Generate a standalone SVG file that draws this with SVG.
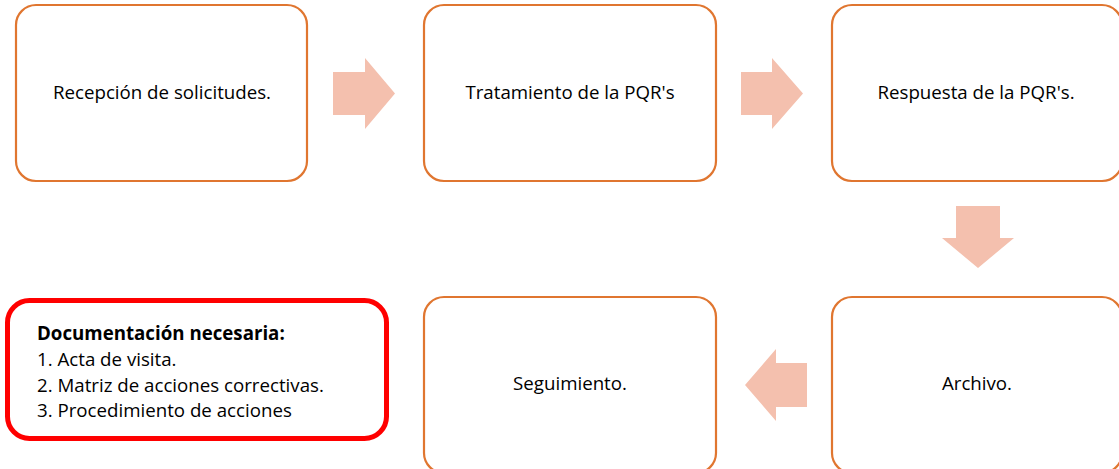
<svg xmlns="http://www.w3.org/2000/svg" width="1119" height="469" viewBox="0 0 1119 469">
<style>
.box{fill:#fff;stroke:#E07630;stroke-width:2.2}
.arr{fill:#F4C0AE;stroke:none}
.lbl{font-family:"Open Sans","Liberation Sans",Arial,sans-serif;font-size:18.7px;fill:#000;text-anchor:middle}
.doc{font-family:"Open Sans","Liberation Sans",Arial,sans-serif;font-size:18.7px;fill:#000}
</style>
<rect width="1119" height="469" fill="#fff"/>
<g id="n1"><rect class="box" x="16" y="5" width="291" height="176" rx="20"/><text class="lbl" x="162" y="99">Recepción de solicitudes.</text></g>
<g id="n2"><rect class="box" x="424" y="5" width="292" height="176" rx="20"/><text class="lbl" x="570" y="99">Tratamiento de la PQR's</text></g>
<g id="n3"><rect class="box" x="832" y="5" width="290" height="176" rx="20"/><text class="lbl" x="976" y="99">Respuesta de la PQR's.</text></g>
<g id="n4"><rect class="box" x="832" y="297" width="290" height="176" rx="20"/><text class="lbl" x="977" y="390">Archivo.</text></g>
<g id="n5"><rect class="box" x="424" y="297" width="292" height="176" rx="20"/><text class="lbl" x="570" y="390">Seguimiento.</text></g>
<g id="n6"><rect x="7.5" y="300.5" width="379" height="138" rx="22" fill="#fff" stroke="#FF0000" stroke-width="5"/>
<text class="doc" x="37" y="340"><tspan font-weight="bold">Documentación necesaria:</tspan><tspan x="37" y="366">1. Acta de visita.</tspan><tspan x="37" y="392">2. Matriz de acciones correctivas.</tspan><tspan x="37" y="417">3. Procedimiento de acciones</tspan></text></g>
<g id="connectors">
<polygon class="arr" points="333,72 365,72 365,58 395,93.5 365,129 365,115 333,115"/>
<polygon class="arr" points="741,72 772,72 772,58 803,93.5 772,129 772,115 741,115"/>
<polygon class="arr" points="956,206 1000,206 1000,238 1014,238 978,268 942,238 956,238"/>
<polygon class="arr" points="807,363 776,363 776,349 745,385 776,421 776,407 807,407"/>
</g>
</svg>
